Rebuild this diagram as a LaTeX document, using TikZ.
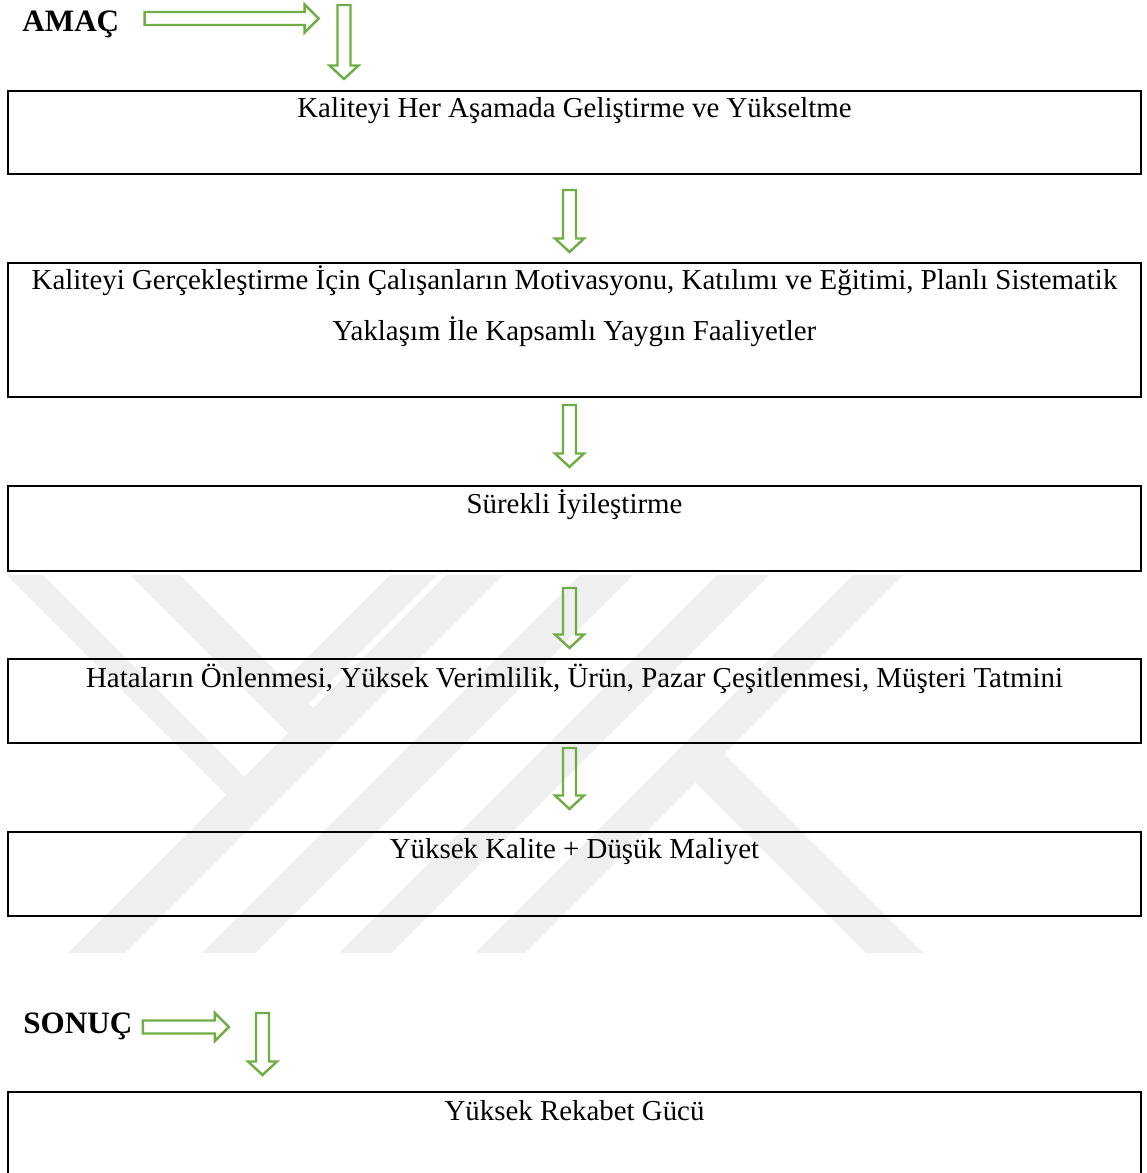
\documentclass[tikz,border=0pt]{standalone}
\usepackage{fontspec}
\setmainfont{Liberation Serif}
\usetikzlibrary{calc}
\definecolor{arrowgreen}{RGB}{112,173,71}
\definecolor{wmgray}{RGB}{239,239,239}
\newcommand{\pxu}{0.45pt}

\tikzset{
  box/.style={draw=black, line width=1.1pt, rectangle, inner sep=0pt, outer sep=0pt,
              minimum width=1133*\pxu, anchor=north west},
  boxtext/.style={font=\fontsize{13}{15}\selectfont, anchor=base, inner sep=0pt},
  tag/.style={font=\fontsize{14}{16}\selectfont\bfseries, anchor=base west, inner sep=0pt},
  arrowline/.style={draw=arrowgreen, line width=1.1pt, line join=miter},
  wmband/.style={fill=wmgray, draw=none},
  % hollow block arrow pointing down, #1 = total length
  pics/downblock/.style={code={
    \draw[arrowline] (-6.5,0) -- (6.5,0) -- (6.5,#1-13.5) -- (14.5,#1-13.5) -- (0,#1)
      -- (-14.5,#1-13.5) -- (-6.5,#1-13.5) -- cycle;
  }},
  % hollow block arrow pointing right, #1 = total length
  pics/rightblock/.style={code={
    \draw[arrowline] (0,-6.5) -- (#1-14,-6.5) -- (#1-14,-14) -- (#1,0) -- (#1-14,14)
      -- (#1-14,6.5) -- (0,6.5) -- cycle;
  }},
}

\begin{document}
\begin{tikzpicture}[x=0.45pt, y=-0.45pt]
\useasboundingbox (0,0) rectangle (1146,1173);
\clip (0,0) rectangle (1146,1173);

% faint striped emblem in the background
\begin{scope}
  \clip (0,575) rectangle (1146,953);
  \fill[wmband] (7,575) -- (43,575) -- (273,805) -- (237,805) -- cycle;
  \fill[wmband] (130,575) -- (180,575) -- (340,735) -- (290,735) -- cycle;
  \fill[wmband] (390,575) -- (437,575) -- (307,705) -- (260,705) -- cycle;
  \fill[wmband] (446,575) -- (503,575) -- (125,953) -- (68,953) -- cycle;
  \fill[wmband] (580,575) -- (633,575) -- (255,953) -- (202,953) -- cycle;
  \fill[wmband] (717,575) -- (769,575) -- (391,953) -- (339,953) -- cycle;
  \fill[wmband] (853,575) -- (903,575) -- (525,953) -- (475,953) -- cycle;
  \fill[wmband] (711.5,741.5) -- (923,953) -- (866,953) -- (683,770) -- cycle;
\end{scope}

% boxes
\node[box, minimum height=83*\pxu]  (b1) at (8,91)   {};
\node[box, minimum height=134*\pxu] (b2) at (8,263)  {};
\node[box, minimum height=85*\pxu]  (b3) at (8,486)  {};
\node[box, minimum height=84*\pxu]  (b4) at (8,659)  {};
\node[box, minimum height=84*\pxu]  (b5) at (8,832)  {};
\node[box, minimum height=110*\pxu] (b6) at (8,1092) {};

% box texts
\node[boxtext] (t1)  at ($(b1.north)+(0,27)$) {Kaliteyi Her Aşamada Geliştirme ve Yükseltme};
\node[boxtext] (t2a) at ($(b2.north)+(0,27)$) {Kaliteyi Gerçekleştirme İçin Çalışanların Motivasyonu, Katılımı ve Eğitimi, Planlı Sistematik};
\node[boxtext] (t2b) at ($(b2.north)+(0,78)$) {Yaklaşım İle Kapsamlı Yaygın Faaliyetler};
\node[boxtext] (t3)  at ($(b3.north)+(0,27)$) {Sürekli İyileştirme};
\node[boxtext] (t4)  at ($(b4.north)+(0,28)$) {Hataların Önlenmesi, Yüksek Verimlilik, Ürün, Pazar Çeşitlenmesi, Müşteri Tatmini};
\node[boxtext] (t5)  at ($(b5.north)+(0,26)$) {Yüksek Kalite + Düşük Maliyet};
\node[boxtext] (t6)  at ($(b6.north)+(0,28)$) {Yüksek Rekabet Gücü};

% side labels
\node[tag] (amac)  at (22,31.5) {AMAÇ};
\node[tag] (sonuc) at (23,1033) {SONUÇ};

% arrows next to the labels
\pic at ($(amac.base east)+(25,-13)$) {rightblock=174};
\pic at (344,5) {downblock=74};
\pic at ($(sonuc.base east)+(10,-6)$) {rightblock=86};
\pic at (262.5,1013) {downblock=62};

% arrows between boxes
\pic at ($(b1.south)+(-5,16)$) {downblock=62};
\pic at ($(b2.south)+(-5,8)$)  {downblock=62};
\pic at ($(b3.south)+(-5,17)$) {downblock=60};
\pic at ($(b4.south)+(-5,5)$)  {downblock=61};
\end{tikzpicture}
\end{document}
